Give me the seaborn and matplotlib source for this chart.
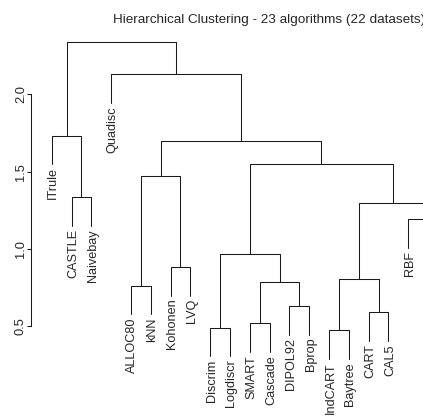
import numpy as np
import pandas as pd
import matplotlib
matplotlib.use("Agg")
import matplotlib.pyplot as plt
import seaborn as sns

# leaves in the order they are drawn, left to right
leaves = ["ITrule", "CASTLE", "Naivebay", "Quadisc", "ALLOC80", "kNN", "Kohonen", "LVQ",
          "Discrim", "Logdiscr", "SMART", "Cascade", "DIPOL92", "Bprop", "IndCART", "Baytree",
          "CART", "CAL5", "RBF", "C4.5", "NewID", "AC2", "CN2"]

# merges: left child, right child, height  ("mN" = merge number N)
merge_left = ["IndCART", "Discrim", "SMART", "CART", "DIPOL92", "AC2", "ALLOC80", "m3",
              "m1", "NewID", "Kohonen", "m2", "C4.5", "RBF", "m9", "CASTLE", "m7", "m12",
              "m17", "ITrule", "Quadisc", "m20"]
merge_right = ["Baytree", "Logdiscr", "Cascade", "CAL5", "Bprop", "CN2", "kNN", "m5",
               "m4", "m6", "LVQ", "m8", "m10", "m13", "m14", "Naivebay", "m11", "m15",
               "m18", "m16", "m19", "m21"]
merge_height = [0.474, 0.491, 0.520, 0.591, 0.632, 0.70, 0.763, 0.785,
                0.808, 0.86, 0.884, 0.968, 1.02, 1.192, 1.295, 1.334, 1.472, 1.551,
                1.696, 1.732, 2.128, 2.336]

y_ticks = [0.5, 1.0, 1.5, 2.0]
title = "Hierarchical Clustering - 23 algorithms (22 datasets)"

hang = 0.185

sns.set_theme(style="white")
plt.rcParams['font.family'] = ['Liberation Sans', 'DejaVu Sans']

# build the dendrogram segments
xpos = {name: i for i, name in enumerate(leaves)}
ypos = {}
leaf_tops = {}
rows = []
for k, (l, r, h) in enumerate(zip(merge_left, merge_right, merge_height)):
    pts = []
    for child in (l, r):
        if child in ypos:
            yb = ypos[child]
        else:
            yb = h - hang
            leaf_tops[child] = yb
        pts.append((xpos[child], yb))
    path = [(pts[0][0], pts[0][1]), (pts[0][0], h), (pts[1][0], h), (pts[1][0], pts[1][1])]
    for x, y in path:
        rows.append({"x": x, "y": y, "seg": k})
    name = "m%d" % (k + 1)
    xpos[name] = (pts[0][0] + pts[1][0]) / 2
    ypos[name] = h

df = pd.DataFrame(rows)

fig = plt.figure(figsize=(4.23, 4.16), dpi=100)
ax = fig.add_axes([0.0733, 0.1038, 1.1282, 0.8183])

sns.lineplot(data=df, x="x", y="y", units="seg", estimator=None, sort=False,
             color="#1a1a1a", lw=0.75, ax=ax, legend=False)

for name in leaves:
    ax.text(xpos[name], leaf_tops[name] - 0.02, name, rotation=90,
            rotation_mode="anchor", ha="right", va="center_baseline", fontsize=9.1)

ax.set_xlim(-1.045, 23.045)
ax.set_ylim(0.2, 2.4)
ax.set_xticks([])
ax.set_yticks(y_ticks)
ax.set_yticklabels(["%.1f" % v for v in y_ticks], rotation=90, va="center", fontsize=9.3)
ax.set_xlabel("")
ax.set_ylabel("")
ax.tick_params(axis="y", left=True, length=3, width=0.75, pad=0, color="#1a1a1a")
for side in ["top", "right", "bottom"]:
    ax.spines[side].set_visible(False)
ax.spines["left"].set_bounds(0.5, 2.0)
ax.spines["left"].set_linewidth(0.75)
ax.spines["left"].set_color("#1a1a1a")
ax.set_title(title, fontsize=9.7, pad=7)

fig.savefig("out.png", dpi=100)
